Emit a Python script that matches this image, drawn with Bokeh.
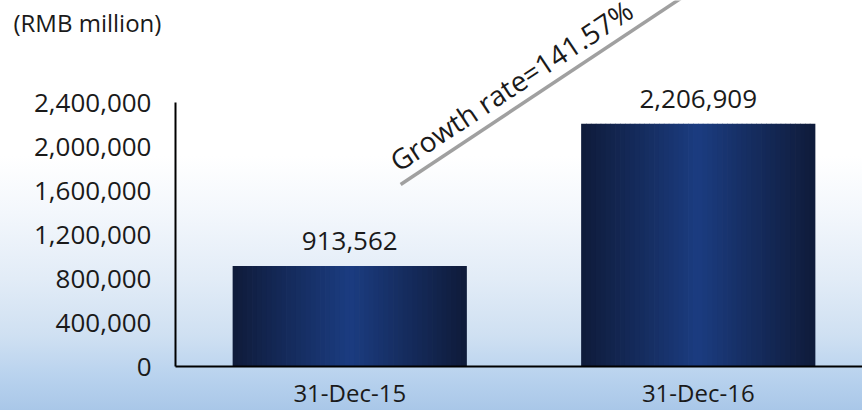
from bokeh.plotting import figure
from bokeh.models import (ColumnDataSource, Range1d, FixedTicker, NumeralTickFormatter,
                          LabelSet, Label, Arrow, NormalHead)
from bokeh.core.properties import value
from bokeh.embed import file_html
from bokeh.resources import INLINE

# ---- data ----
categories = ["31-Dec-15", "31-Dec-16"]
values = [913562, 2206909]
y_ticks = [0, 400000, 800000, 1200000, 1600000, 2000000, 2400000]
unit_title = "(RMB million)"
growth_text = "Growth rate=141.57%"

FONT = "Open Sans"
TXT = "#1a1a1a"

W, H = 862, 410
X_START, X_END = -0.50215, 1.97131
Y_START, Y_END = -400000, 3327273
p = figure(width=W, height=H, output_backend="svg", toolbar_location=None,
           x_range=Range1d(X_START, X_END), y_range=Range1d(Y_START, Y_END),
           min_border_left=0, min_border_right=0, min_border_top=0, min_border_bottom=0)
p.background_fill_alpha = 0
p.border_fill_alpha = 0
p.outline_line_color = None
p.grid.visible = False
p.styles = {"background": "linear-gradient(to bottom, #ffffff 0%, #ffffff 38%, #f3f7fc 52%, "
                          "#e2ecf7 68%, #cfe0f2 82%, #b8d2ee 92%, #a9c7e8 100%)"}

# ---- bars with a horizontal gradient, drawn as thin vertical strips ----
bar_w = 0.67
N = 48
edge = (15, 27, 58)
center = (27, 60, 128)
xs, tops, widths, colors = [], [], [], []
for i, v in enumerate(values):
    cx = i + 0.5
    for k in range(N):
        f = (k + 0.5) / N
        t = abs(2 * f - 1)
        c = tuple(int(round(center[j] * (1 - t) + edge[j] * t)) for j in range(3))
        xs.append(cx - bar_w / 2 + f * bar_w)
        tops.append(v)
        widths.append(bar_w / N * 1.15)
        colors.append("#%02x%02x%02x" % c)
src = ColumnDataSource(dict(x=xs, top=tops, w=widths, c=colors))
p.vbar(x="x", top="top", width="w", bottom=0, fill_color="c", line_color=None, source=src)

# ---- value labels ----
lab_src = ColumnDataSource(dict(x=[i + 0.5 for i in range(len(values))], y=values,
                                t=[f"{v:,}" for v in values]))
p.add_layout(LabelSet(x="x", y="y", text="t", source=lab_src, y_offset=25,
                      text_align="center", text_baseline="middle",
                      text_font=value(FONT), text_font_size=value("26px"),
                      text_color=TXT))

# ---- axes (fixed at the data origin) ----
yax = p.yaxis[0]
yax.fixed_location = 0
yax.ticker = FixedTicker(ticks=y_ticks)
yax.formatter = NumeralTickFormatter(format="0,0")
yax.bounds = (y_ticks[0], y_ticks[-1])
yax.axis_line_color = "black"
yax.axis_line_width = 2
yax.major_tick_line_color = None
yax.minor_tick_line_color = None
yax.major_tick_out = 0
yax.major_tick_in = 0
yax.minor_tick_out = 0
yax.major_label_standoff = 24
yax.major_label_text_font = FONT
yax.major_label_text_font_size = "26px"
yax.major_label_text_color = TXT

xax = p.xaxis[0]
xax.fixed_location = 0
xax.bounds = (0, X_END)
xax.ticker = FixedTicker(ticks=[i + 0.5 for i in range(len(categories))])
xax.major_label_overrides = {i + 0.5: c for i, c in enumerate(categories)}
xax.axis_line_color = "black"
xax.axis_line_width = 2
xax.major_tick_line_color = None
xax.minor_tick_line_color = None
xax.major_tick_out = 0
xax.major_tick_in = 0
xax.minor_tick_out = 0
xax.major_label_standoff = 9
xax.major_label_text_font = FONT
xax.major_label_text_font_size = "24px"
xax.major_label_text_color = TXT

# ---- title (placed in data units, left of the y axis) ----
p.add_layout(Label(x=-0.4649, y=3127273, text=unit_title,
                   text_font=FONT, text_font_size="24px", text_color=TXT,
                   text_baseline="middle", text_align="left"))

# ---- growth arrow and text ----
p.add_layout(Arrow(x_start=0.646, y_start=1655000, x_end=1.527, y_end=3509000,
                   line_color="#a0a0a0", line_width=3.5,
                   end=NormalHead(size=14, fill_color="#a0a0a0", line_color="#a0a0a0")))
p.add_layout(Label(x=0.623, y=1845000, text=growth_text, angle=33.5, angle_units="deg",
                   text_font=FONT, text_font_size="28px", text_color=TXT,
                   text_align="left", text_baseline="alphabetic"))

open("out.html", "w").write(file_html(p, INLINE))
